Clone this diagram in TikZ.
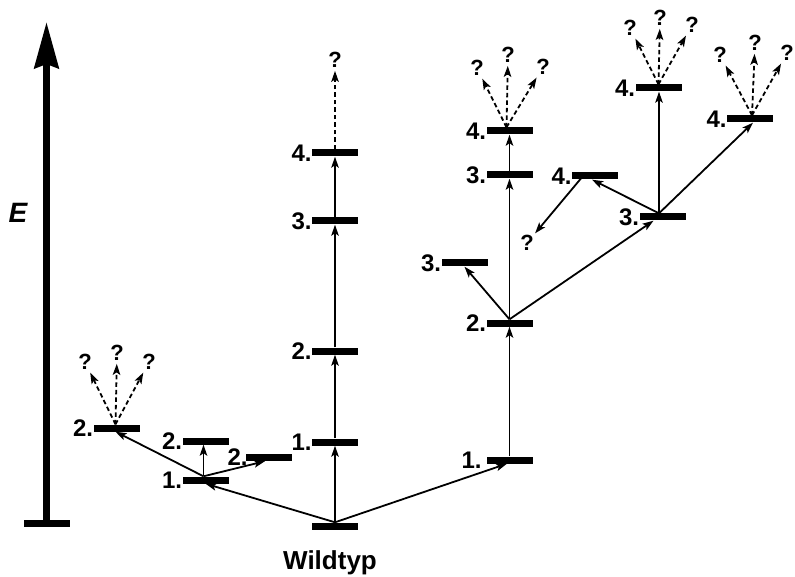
\documentclass[tikz,border=0pt]{standalone}
\usepackage{fontspec}
\setmainfont{Liberation Sans}
\usetikzlibrary{arrows.meta}
\begin{document}
\begin{tikzpicture}[x=1pt,y=-1pt,
  level/.style={fill=black, minimum width=46pt, minimum height=7pt, inner sep=0pt, label distance=2pt},
  lbl/.style={font=\fontsize{24}{24}\selectfont\bfseries, inner sep=0pt},
  qm/.style={font=\fontsize{22}{22}\selectfont\bfseries, inner sep=1pt},
  arr/.style={line width=1.8pt, -{Stealth[length=11pt,width=7.5pt,inset=2.5pt]}},
  fan/.style={arr, dash pattern=on 4.5pt off 3pt, shorten >=2pt}]
\useasboundingbox (0,0) rectangle (795,577);

% energy axis
\node[level] (axbase) at (46.5,523.5) {};
\draw[line width=7pt, -{Stealth[length=46pt,width=24pt,inset=4pt]}] (axbase.center) -- (46.5,22);
\node[font=\fontsize{28}{28}\selectfont\bfseries\itshape] (E) at (18,213) {E};

% wild type
\node[level] (w) at (335,526) {};
\node[font=\fontsize{26}{26}\selectfont\bfseries] (wt) at (330,563) {Wildtyp};

% left branch
\node[level, label={[lbl]left:1.}] (l1) at (205.5,480) {};
\node[level, label={[lbl]left:2.}] (lu2) at (205.5,441) {};
\node[level, label={[lbl,xshift=2pt]left:2.}] (lr2) at (269,457.5) {};
\node[level, label={[lbl]left:2.}] (ll2) at (116.5,428) {};
\node[qm] (qla) at (85,362) {?};
\node[qm] (qlb) at (117,353) {?};
\node[qm] (qlc) at (149,362) {?};

% middle column
\node[level, label={[lbl]left:1.}] (c1) at (335,442) {};
\node[level, label={[lbl]left:2.}] (c2) at (335,351) {};
\node[level, label={[lbl]left:3.}] (c3) at (335,221) {};
\node[level, label={[lbl]left:4.}] (c4) at (335,153) {};
\node[qm] (qc) at (335,60) {?};

% right branch
\node[level, label={[lbl,xshift=-5pt]left:1.}] (r1) at (510,460) {};
\node[level, label={[lbl]left:2.}] (r2) at (509.5,323) {};
\node[level, label={[lbl]left:3.}] (r3) at (509.5,175) {};
\node[level, label={[lbl]left:4.}] (r4) at (509.5,131) {};
\node[level, label={[lbl]left:3.}] (rl3) at (464.5,263) {};
\node[level, label={[lbl]left:3.}] (rr3) at (662.5,217) {};
\node[level, label={[lbl]left:4.}] (m4) at (595,176) {};
\node[level, label={[lbl]left:4.}] (t4) at (658.5,88) {};
\node[level, label={[lbl]left:4.}] (rt4) at (750,119) {};
\node[qm] (qm4) at (527,243) {?};
\node[qm] (qra) at (477,68) {?};
\node[qm] (qrb) at (508,55) {?};
\node[qm] (qrc) at (543,67) {?};
\node[qm] (qta) at (630,28) {?};
\node[qm] (qtb) at (660,18) {?};
\node[qm] (qtc) at (692,25) {?};
\node[qm] (qsa) at (720,55) {?};
\node[qm] (qsb) at (755,43) {?};
\node[qm] (qsc) at (787,53) {?};

% transitions from the wild type
\draw[arr] (w.north) -- (l1.south);
\draw[arr] (w.north) -- (c1.south);
\draw[arr] (w.north) -- ([xshift=-3pt]r1.south);

% left branch
\coordinate (ol1) at ([xshift=-2pt]l1.north);
\draw[arr] (ol1) -- (ol1 |- lu2.south);
\draw[arr] (ol1) -- ([xshift=-1pt]ll2.south);
\draw[arr] (ol1) -- ([xshift=-4pt]lr2.south);
\coordinate (oll2) at ([xshift=-1pt]ll2.north);
\draw[fan] (oll2) -- (qla);
\draw[fan] (oll2) -- (qlb);
\draw[fan] (oll2) -- (qlc);

% middle column
\draw[arr] (c1.north) -- (c2.south);
\draw[arr] (c2.north) -- (c3.south);
\draw[arr] (c3.north) -- (c4.south);
\draw[fan] (c4.north) -- (qc);

% right branch
\draw[arr] (r1.north -| r2.north) -- (r2.south);
\draw[arr] (r2.north) -- (r3.south);
\draw[arr] (r3.north) -- (r4.south);
\draw[arr] (r2.north) -- (rl3.south);
\draw[arr] (r2.north) -- ([xshift=-9pt]rr3.south);
\coordinate (orr3) at ([xshift=-3.5pt]rr3.north);
\draw[arr] (orr3) -- (orr3 |- t4.south);
\draw[arr] (orr3) -- ([xshift=3pt]rt4.south);
\draw[arr] (orr3) -- ([xshift=-3pt]m4.south);
\draw[arr, shorten >=1pt] ([xshift=-12pt]m4.center) -- (qm4);
\coordinate (or4) at ([xshift=-3pt]r4.north);
\draw[fan] (or4) -- (qra);
\draw[fan] (or4) -- (qrb);
\draw[fan] (or4) -- (qrc);
\draw[fan] (t4.north) -- (qta);
\draw[fan] (t4.north) -- (qtb);
\draw[fan] (t4.north) -- (qtc);
\coordinate (ort4) at ([xshift=2pt]rt4.north);
\draw[fan] (ort4) -- (qsa);
\draw[fan] (ort4) -- (qsb);
\draw[fan] (ort4) -- (qsc);
\end{tikzpicture}
\end{document}
